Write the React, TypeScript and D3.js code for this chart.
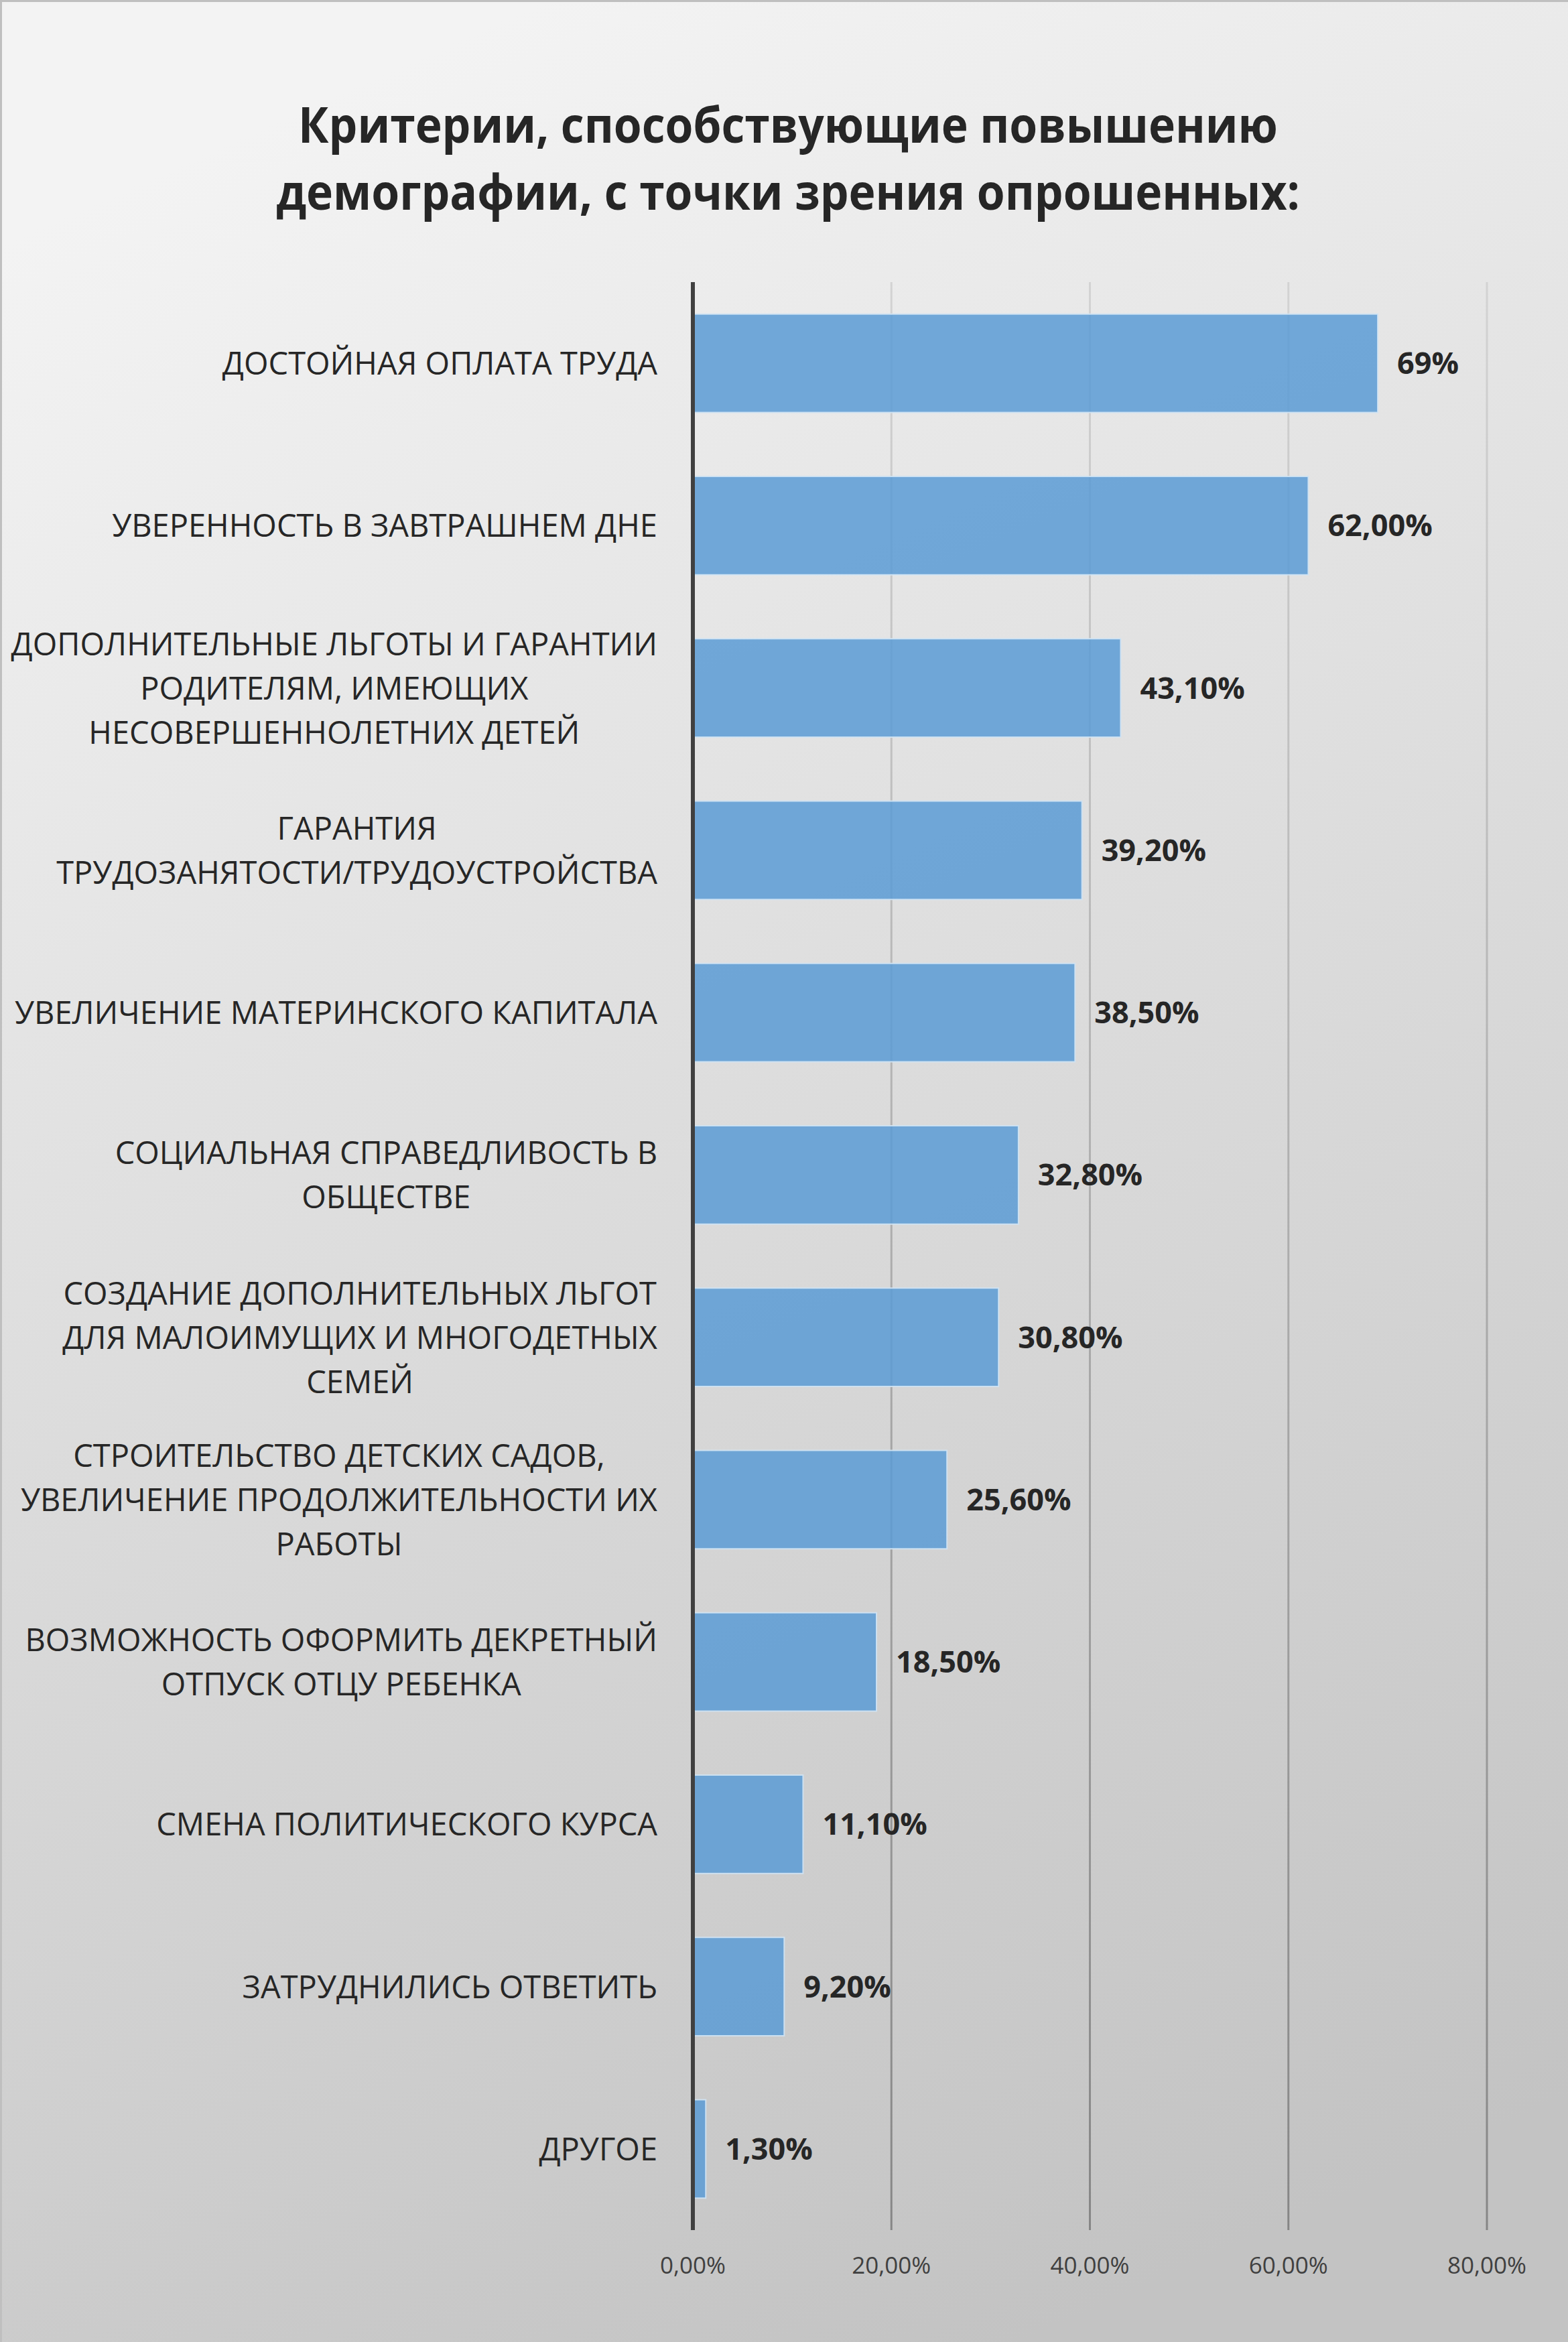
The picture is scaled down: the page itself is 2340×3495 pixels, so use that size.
import { useEffect, useRef } from 'react';
import * as d3 from 'd3';

const WIDTH = 2340;
const HEIGHT = 3495;

const TITLE_LINES = [
  'Критерии, способствующие повышению',
  'демографии, с точки зрения опрошенных:',
];

const categories = [
  ['ДОСТОЙНАЯ ОПЛАТА ТРУДА'],
  ['УВЕРЕННОСТЬ В ЗАВТРАШНЕМ ДНЕ'],
  ['ДОПОЛНИТЕЛЬНЫЕ ЛЬГОТЫ И ГАРАНТИИ', 'РОДИТЕЛЯМ, ИМЕЮЩИХ', 'НЕСОВЕРШЕННОЛЕТНИХ ДЕТЕЙ'],
  ['ГАРАНТИЯ', 'ТРУДОЗАНЯТОСТИ/ТРУДОУСТРОЙСТВА'],
  ['УВЕЛИЧЕНИЕ МАТЕРИНСКОГО КАПИТАЛА'],
  ['СОЦИАЛЬНАЯ СПРАВЕДЛИВОСТЬ В', 'ОБЩЕСТВЕ'],
  ['СОЗДАНИЕ ДОПОЛНИТЕЛЬНЫХ ЛЬГОТ', 'ДЛЯ МАЛОИМУЩИХ И МНОГОДЕТНЫХ', 'СЕМЕЙ'],
  ['СТРОИТЕЛЬСТВО ДЕТСКИХ САДОВ,', 'УВЕЛИЧЕНИЕ ПРОДОЛЖИТЕЛЬНОСТИ ИХ', 'РАБОТЫ'],
  ['ВОЗМОЖНОСТЬ ОФОРМИТЬ ДЕКРЕТНЫЙ', 'ОТПУСК ОТЦУ РЕБЕНКА'],
  ['СМЕНА ПОЛИТИЧЕСКОГО КУРСА'],
  ['ЗАТРУДНИЛИСЬ ОТВЕТИТЬ'],
  ['ДРУГОЕ'],
];

const values = [69, 62, 43.1, 39.2, 38.5, 32.8, 30.8, 25.6, 18.5, 11.1, 9.2, 1.3];

const valueLabels = [
  '69%', '62,00%', '43,10%', '39,20%', '38,50%', '32,80%',
  '30,80%', '25,60%', '18,50%', '11,10%', '9,20%', '1,30%',
];

const ticks = [0, 20, 40, 60, 80];

const ruLocale = d3.formatLocale({
  decimal: ',',
  thousands: ' ',
  grouping: [3],
  currency: ['', ' ₽'],
});
const formatTick = (v: number) => ruLocale.format('.2f')(v) + '%';

const FONT = "'Open Sans', 'Noto Sans', sans-serif";

export default function App() {
  const svgRef = useRef<SVGSVGElement>(null);

  useEffect(() => {
    document.body.style.margin = '0';
    if (!svgRef.current) return;

    const svg = d3.select(svgRef.current);
    svg.selectAll('*').remove();

    const plotTop = 421;
    const plotBottom = 3328;
    const ids = categories.map((_, i) => String(i));

    const x = d3.scaleLinear().domain([0, 80]).range([1034, 2219]);
    const y = d3
      .scaleBand<string>()
      .domain(ids)
      .range([plotTop, plotBottom])
      .paddingInner(0.394)
      .paddingOuter(0.197);

    const defs = svg.append('defs');
    const bg = defs
      .append('linearGradient')
      .attr('id', 'bg')
      .attr('x1', '0.35')
      .attr('y1', '0')
      .attr('x2', '0.65')
      .attr('y2', '1');
    bg.append('stop').attr('offset', '0%').attr('stop-color', '#f3f3f3');
    bg.append('stop').attr('offset', '100%').attr('stop-color', '#c3c3c3');

    const grid = defs
      .append('linearGradient')
      .attr('id', 'grid')
      .attr('gradientUnits', 'userSpaceOnUse')
      .attr('x1', 0)
      .attr('y1', plotTop)
      .attr('x2', 0)
      .attr('y2', plotBottom);
    grid.append('stop').attr('offset', '0%').attr('stop-color', '#d3d3d3');
    grid.append('stop').attr('offset', '100%').attr('stop-color', '#868686');

    svg
      .append('rect')
      .attr('width', WIDTH)
      .attr('height', HEIGHT)
      .attr('fill', 'url(#bg)');

    // frame, only top and left edge are visible in the picture
    svg
      .append('path')
      .attr('d', `M1.5,${HEIGHT} V1.5 H${WIDTH}`)
      .attr('fill', 'none')
      .attr('stroke', '#bfbfbf')
      .attr('stroke-width', 3);

    // title (squeezed a bit, the original face is narrower)
    svg
      .append('g')
      .attr('transform', 'translate(1176,0) scale(0.915,1)')
      .selectAll('text')
      .data(TITLE_LINES)
      .join('text')
      .attr('x', 0)
      .attr('y', (_, i) => 213 + i * 100)
      .attr('text-anchor', 'middle')
      .attr('font-family', FONT)
      .attr('font-weight', 700)
      .attr('font-size', 74)
      .attr('fill', '#262626')
      .text((d) => d);

    // vertical gridlines
    svg
      .append('g')
      .selectAll('line')
      .data(ticks.filter((t) => t > 0))
      .join('line')
      .attr('x1', (d) => x(d))
      .attr('x2', (d) => x(d))
      .attr('y1', plotTop)
      .attr('y2', plotBottom)
      .attr('stroke', 'url(#grid)')
      .attr('stroke-width', 3);

    // bars
    svg
      .append('g')
      .selectAll('rect')
      .data(values)
      .join('rect')
      .attr('x', x(0))
      .attr('y', (_, i) => y(String(i))!)
      .attr('width', (d) => x(d) - x(0))
      .attr('height', y.bandwidth())
      .attr('fill', '#5b9bd5')
      .attr('fill-opacity', 0.85)
      .attr('stroke', '#d2e4f4')
      .attr('stroke-opacity', 0.9)
      .attr('stroke-width', 2);

    // category axis line
    svg
      .append('line')
      .attr('x1', x(0))
      .attr('x2', x(0))
      .attr('y1', plotTop)
      .attr('y2', plotBottom)
      .attr('stroke', '#404040')
      .attr('stroke-width', 6);

    // value labels
    svg
      .append('g')
      .selectAll('text')
      .data(values)
      .join('text')
      .attr('x', (d) => x(d) + 29)
      .attr('y', (_, i) => y(String(i))! + y.bandwidth() / 2 + 16)
      .attr('font-family', FONT)
      .attr('font-weight', 700)
      .attr('font-size', 45)
      .attr('fill', '#262626')
      .text((_, i) => valueLabels[i]);

    // category labels: block right-aligned to the axis, lines centred inside it
    const labelRight = 981;
    const lineGap = 66;
    const labels = svg.append('g');
    categories.forEach((lines, i) => {
      const cy = y(String(i))! + y.bandwidth() / 2;
      const group = labels.append('g');
      const texts = group
        .selectAll('text')
        .data(lines)
        .join('text')
        .attr('y', (_, j) => cy + (j - (lines.length - 1) / 2) * lineGap + 17)
        .attr('text-anchor', 'middle')
        .attr('font-family', FONT)
        .attr('font-size', 47)
        .attr('fill', '#262626')
        .text((d) => d);
      let maxWidth = 0;
      texts.each(function () {
        maxWidth = Math.max(maxWidth, (this as SVGTextElement).getComputedTextLength());
      });
      texts.attr('x', labelRight - maxWidth / 2);
    });

    // value axis tick labels
    svg
      .append('g')
      .selectAll('text')
      .data(ticks)
      .join('text')
      .attr('x', (d) => x(d))
      .attr('y', 3393)
      .attr('text-anchor', 'middle')
      .attr('font-family', FONT)
      .attr('font-size', 35)
      .attr('fill', '#404040')
      .text((d) => formatTick(d));
  }, []);

  return (
    <svg
      ref={svgRef}
      width={WIDTH}
      height={HEIGHT}
      viewBox={`0 0 ${WIDTH} ${HEIGHT}`}
      style={{ display: 'block' }}
    />
  );
}
